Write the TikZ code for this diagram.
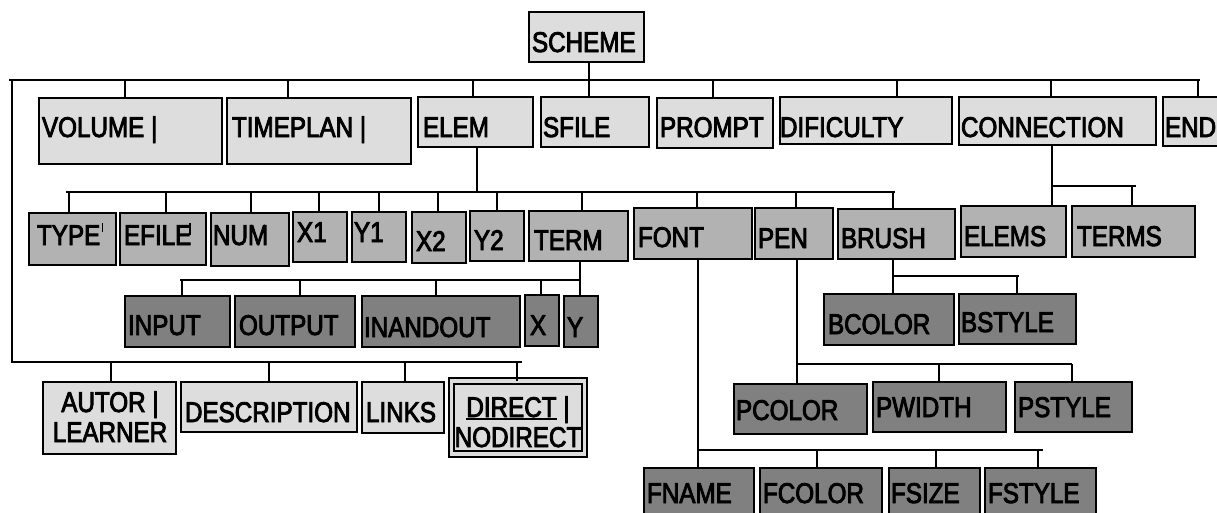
\documentclass[tikz,border=0pt]{standalone}
\usepackage{fontspec}
\setmainfont{Liberation Sans}[FakeStretch=0.85,FakeBold=3]
\usetikzlibrary{calc}
\definecolor{lg}{HTML}{DDDDDD}
\definecolor{mg}{HTML}{B2B2B2}
\definecolor{dg}{HTML}{808080}
\tikzset{
  box/.style={draw=black, line width=1.8pt, inner sep=0pt, outer sep=0pt},
  lone/.style={box, fill=lg},
  ltwo/.style={box, fill=mg},
  lthree/.style={box, fill=dg},
  lbl/.style={inner sep=0pt, outer sep=0pt, font=\fontsize{28.5}{30}\selectfont, anchor=base west},
  conn/.style={line width=1.8pt}
}
\newcommand\bx[9]{%
  \pgfmathsetmacro\bxw{#4-#2}\pgfmathsetmacro\bxh{#5-#3}%
  \node[#6, minimum width=\bxw pt, minimum height=\bxh pt, anchor=north west] (#1) at (#2,#3) {};
  \node[lbl] (#1-t) at (#7,#8) {#9};}
\newcommand\drop[3]{\draw[conn] (#1,#2) -- (#1,0 |- #3.north);}
\newcommand\myul[1]{\setbox0\hbox{#1}\rlap{\rule[-3pt]{\wd0}{1.6pt}}\box0\relax}
\begin{document}
\begin{tikzpicture}[x=1pt,y=-1pt]
\useasboundingbox (0,0) rectangle (1217,512);
\clip (0,0) rectangle (1217,512);
% root
\bx{scheme}{529}{12}{644}{62}{lone}{532}{52}{SCHEME}
% level 1
\bx{volume}{39}{98}{222}{164}{lone}{42}{137}{VOLUME |}
\bx{timeplan}{227}{98}{411}{164}{lone}{232}{137}{TIMEPLAN |}
\bx{elem}{418}{97}{533}{147}{lone}{423}{137}{ELEM}
\bx{sfile}{541}{97}{649}{147}{lone}{543}{137}{SFILE}
\bx{prompt}{657}{98}{773}{148}{lone}{660}{137}{PROMPT}
\bx{dificulty}{780}{97}{952}{144}{lone}{780}{137}{DIFICULTY}
\bx{connection}{959}{97}{1156}{145}{lone}{961}{137}{CONNECTION}
\bx{end}{1163}{97}{1235}{146}{lone}{1165}{137}{END}
% level 2
\bx{type}{29}{213}{116}{265}{ltwo}{37}{245}{TYPE\kern2pt\raisebox{13pt}{\rule{1pt}{9pt}}}
\bx{efile}{120}{213}{206}{265}{ltwo}{124}{245}{EFILE\kern-2pt\raisebox{10pt}{\rule{1.2pt}{12pt}}}
\bx{num}{211}{213}{289}{266}{ltwo}{213}{245}{NUM}
\bx{xone}{293}{212}{347}{262}{ltwo}{297}{242}{X1}
\bx{yone}{352}{212}{406}{262}{ltwo}{354}{242}{Y1}
\bx{xtwo}{412}{212}{466}{263}{ltwo}{416}{251}{X2}
\bx{ytwo}{470}{211}{524}{261}{ltwo}{474}{250}{Y2}
\bx{term}{529}{211}{628}{261}{ltwo}{534}{250}{TERM}
\bx{font}{634}{208}{752}{259}{ltwo}{638}{247}{FONT}
\bx{pen}{755}{208}{833}{259}{ltwo}{758}{248}{PEN}
\bx{brush}{838}{209}{955}{259}{ltwo}{841}{248}{BRUSH}
\bx{elems}{961}{206}{1066}{257}{ltwo}{964}{246}{ELEMS}
\bx{terms}{1072}{206}{1195}{257}{ltwo}{1077}{246}{TERMS}
% level 3
\bx{input}{125}{296}{230}{347}{lthree}{128}{335}{INPUT}
\bx{output}{235}{296}{355}{347}{lthree}{239}{335}{OUTPUT}
\bx{inandout}{362}{296}{520}{347}{lthree}{364}{337}{INANDOUT}
\bx{x}{525}{295}{559}{346}{lthree}{530}{335}{X}
\bx{y}{564}{296}{598}{347}{lthree}{567}{337}{Y}
\bx{bcolor}{824}{294}{954}{345}{lthree}{828}{334}{BCOLOR}
\bx{bstyle}{959}{294}{1076}{344}{lthree}{961}{332}{BSTYLE}
\bx{pcolor}{734}{384}{867}{434}{lthree}{736}{420}{PCOLOR}
\bx{pwidth}{873}{382}{1006}{432}{lthree}{876}{417}{PWIDTH}
\bx{pstyle}{1015}{382}{1132}{432}{lthree}{1018}{417}{PSTYLE}
\bx{fname}{644}{468}{754}{530}{lthree}{647}{503}{FNAME}
\bx{fcolor}{760}{468}{882}{530}{lthree}{763}{503}{FCOLOR}
\bx{fsize}{889}{468}{980}{530}{lthree}{891}{503}{FSIZE}
\bx{fstyle}{985}{468}{1096}{530}{lthree}{988}{503}{FSTYLE}
% bottom-left group
\node[lone, minimum width=133pt, minimum height=72pt, anchor=north west] (autor) at (43,382) {};
\node[lbl, anchor=base] (autor-t1) at (110,412) {AUTOR |};
\node[lbl, anchor=base] (autor-t2) at (110,442) {LEARNER};
\bx{description}{181}{382}{357}{432}{lone}{185}{422}{DESCRIPTION}
\bx{links}{362}{382}{444}{433}{lone}{366}{422}{LINKS}
\node[box, fill=lg, double=lg, double distance=3.6pt, minimum width=133pt, minimum height=73pt, anchor=north west] (direct) at (451.5,381) {};
\node[lbl, anchor=base] (direct-t1) at (518,417) {\myul{DIRECT} |};
\node[lbl, anchor=base] (direct-t2) at (518,447) {NODIRECT};
% connectors: root
\coordinate (busA-l) at (9,80);
\coordinate (busA-r) at (1200,80);
\draw[conn] (589,0 |- scheme.south) -- (589,80);
\draw[conn] (busA-l) -- (busA-r);
\drop{125}{80}{volume}
\drop{288}{80}{timeplan}
\drop{473}{80}{elem}
\drop{589}{80}{sfile}
\drop{713}{80}{prompt}
\drop{897}{80}{dificulty}
\drop{1051}{80}{connection}
\drop{1198}{80}{end}
% left loop
\coordinate (loop-c) at (12,362);
\coordinate (loop-r) at (522,362);
\draw[conn] (12,80) -- (loop-c) -- (loop-r);
\drop{111}{362}{autor}
\drop{269}{362}{description}
\drop{405}{362}{links}
\drop{517}{362}{direct}
% ELEM
\coordinate (busB-l) at (66,192);
\coordinate (busB-r) at (895,192);
\draw[conn] (477,0 |- elem.south) -- (477,192);
\draw[conn] (busB-l) -- (busB-r);
\drop{69}{192}{type}
\drop{166}{192}{efile}
\drop{251}{192}{num}
\drop{319}{192}{xone}
\drop{379}{192}{yone}
\drop{438}{192}{xtwo}
\drop{497}{192}{ytwo}
\drop{582}{192}{term}
\drop{697}{192}{font}
\drop{796}{192}{pen}
\drop{893}{192}{brush}
% TERM
\coordinate (busC-l) at (180,280);
\draw[conn] (580,0 |- term.south) -- (580,0 |- y.north);
\draw[conn] (busC-l) -- (580,280);
\drop{182}{280}{input}
\drop{300}{280}{output}
\drop{436}{280}{inandout}
\drop{541}{280}{x}
% CONNECTION
\draw[conn] (1052,0 |- connection.south) -- (1052,0 |- elems.north);
\coordinate (busD-r) at (1136,186);
\draw[conn] (1052,186) -- (busD-r);
\drop{1132}{186}{terms}
% BRUSH
\draw[conn] (893,0 |- brush.south) -- (893,0 |- bcolor.north);
\coordinate (busE-r) at (1019,276);
\draw[conn] (893,276) -- (busE-r);
\drop{1017}{276}{bstyle}
% PEN
\draw[conn] (797,0 |- pen.south) -- (797,0 |- pcolor.north);
\coordinate (busF-r) at (1072,364);
\draw[conn] (797,364) -- (busF-r);
\drop{939}{364}{pwidth}
\drop{1072}{364}{pstyle}
% FONT
\draw[conn] (698,0 |- font.south) -- (698,0 |- fname.north);
\coordinate (busG-r) at (1043,450);
\draw[conn] (698,450) -- (busG-r);
\drop{817}{450}{fcolor}
\drop{936}{450}{fsize}
\drop{1038}{450}{fstyle}
\end{tikzpicture}
\end{document}
